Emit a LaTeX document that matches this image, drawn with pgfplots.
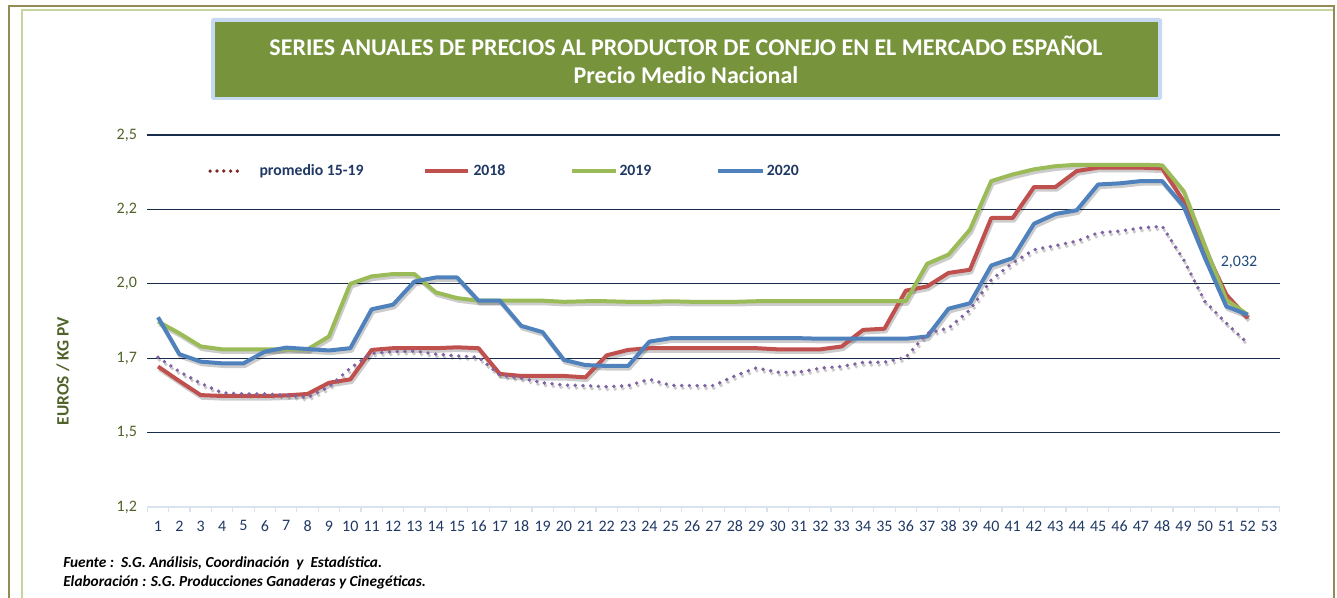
\documentclass[border=0pt]{standalone}
\usepackage{fontspec}
\setmainfont{Carlito}
\usepackage{pgfplots}
\usepackage{pgfplotstable}
\pgfplotsset{compat=1.18}

\definecolor{frameol}{RGB}{148,139,84}
\definecolor{framegr}{RGB}{195,214,155}
\definecolor{titlebg}{RGB}{119,147,60}
\definecolor{titlebd}{RGB}{198,217,241}
\definecolor{ytickc}{RGB}{79,98,40}
\definecolor{xtickc}{RGB}{31,56,100}
\definecolor{gridc}{RGB}{23,45,75}
\definecolor{axisc}{RGB}{217,227,240}
\definecolor{c18}{RGB}{192,80,77}
\definecolor{c19}{RGB}{155,187,89}
\definecolor{c20}{RGB}{79,129,189}
\definecolor{cprom}{RGB}{128,100,162}
\definecolor{cpromleg}{RGB}{128,40,40}
\definecolor{legtext}{RGB}{31,56,100}
\definecolor{lbl}{RGB}{31,73,125}

\pgfplotstableread{
w prom a18 a19 a20
1 1.723 1.691 1.848 1.863
2 1.673 1.640 1.807 1.734
3 1.632 1.591 1.761 1.708
4 1.599 1.588 1.751 1.702
5 1.595 1.588 1.751 1.702
6 1.595 1.588 1.751 1.743
7 1.591 1.590 1.751 1.757
8 1.583 1.595 1.751 1.752
9 1.620 1.634 1.796 1.747
10 1.685 1.646 1.980 1.755
11 1.737 1.749 2.006 1.891
12 1.743 1.755 2.014 1.907
13 1.745 1.755 2.014 1.988
14 1.734 1.755 1.950 2.002
15 1.728 1.758 1.930 2.002
16 1.723 1.755 1.921 1.921
17 1.661 1.665 1.921 1.921
18 1.650 1.658 1.921 1.833
19 1.634 1.658 1.921 1.811
20 1.626 1.658 1.917 1.714
21 1.624 1.653 1.919 1.696
22 1.620 1.730 1.919 1.693
23 1.624 1.749 1.917 1.693
24 1.646 1.755 1.917 1.778
25 1.625 1.755 1.919 1.790
26 1.624 1.755 1.917 1.790
27 1.624 1.755 1.917 1.790
28 1.658 1.755 1.917 1.790
29 1.686 1.755 1.919 1.790
30 1.671 1.751 1.919 1.790
31 1.671 1.751 1.919 1.790
32 1.685 1.751 1.919 1.788
33 1.691 1.761 1.919 1.788
34 1.705 1.819 1.919 1.788
35 1.706 1.823 1.919 1.788
36 1.723 1.956 1.919 1.788
37 1.807 1.971 2.050 1.796
38 1.825 2.018 2.082 1.893
39 1.889 2.029 2.169 1.912
40 1.994 2.210 2.339 2.044
41 2.053 2.210 2.362 2.070
42 2.099 2.318 2.380 2.190
43 2.113 2.318 2.391 2.224
44 2.129 2.374 2.396 2.237
45 2.158 2.386 2.396 2.327
46 2.164 2.386 2.396 2.331
47 2.175 2.386 2.396 2.339
48 2.181 2.383 2.394 2.339
49 2.064 2.269 2.304 2.251
50 1.918 2.099 2.111 2.070
51 1.842 1.942 1.924 1.901
52 1.772 1.860 1.872 1.872
}\data

\begin{document}
\begin{tikzpicture}
\path[use as bounding box] (0,0) rectangle (1002.75pt,448.5pt);
% frame
\draw[frameol, line width=1.5pt] (6.75pt,-1pt) -- (6.75pt,444pt) -- (1000.5pt,444pt) -- (1000.5pt,-1pt);
\draw[framegr, line width=0.9pt] (16.5pt,-1pt) -- (16.5pt,441pt) -- (999.5pt,441pt);
% title
\fill[titlebd, rounded corners=2pt] (158.25pt,373.5pt) rectangle (871.5pt,435pt);
\fill[titlebg] (161.25pt,375.75pt) rectangle (868.5pt,432pt);
\node[white, font=\bfseries\fontsize{18}{21}\selectfont] at (514.5pt,414.5pt) {SERIES ANUALES DE PRECIOS AL PRODUCTOR DE CONEJO EN EL MERCADO ESPAÑOL};
\node[white, font=\bfseries\fontsize{18}{21}\selectfont] at (514.5pt,392pt) {Precio Medio Nacional};
% y label
\node[ytickc, rotate=90, font=\bfseries\fontsize{13}{15}\selectfont] at (47.25pt,170pt) {EUROS / KG PV};
% footnotes
\node[anchor=west, inner sep=0pt, font=\bfseries\itshape\fontsize{11.5}{13}\selectfont] at (47.25pt,26.25pt) {Fuente :\ \ S.G. Análisis, Coordinación\ \ y\ \ Estadística.};
\node[anchor=west, inner sep=0pt, font=\bfseries\itshape\fontsize{11.5}{13}\selectfont] at (47.25pt,12pt) {Elaboración : S.G. Producciones Ganaderas y Cinegéticas.};

\begin{axis}[
  at={(110.5pt,68.25pt)}, anchor=south west, scale only axis,
  width=849.3pt, height=279pt,
  xmin=0.5, xmax=53.5, ymin=1.2, ymax=2.5,
  axis lines*=left,
  y axis line style={draw=none},
  x axis line style={axisc, line width=1.2pt, -},
  xtick={1,...,53},
  minor xtick={0.5,1.5,...,53.5},
  major x tick style={draw=none},
  minor x tick style={axisc, line width=0.9pt},
  minor tick length=3.75pt,
  tick align=outside,
  ytick={1.46,1.72,1.98,2.24,2.5},
  yticklabels={{1,5},{1,7},{2,0},{2,2},{2,5}},
  extra y ticks={1.2}, extra y tick labels={1{,}2},
  extra y tick style={grid=none},
  ymajorgrids, grid style={gridc, line width=0.8pt},
  major y tick style={draw=none},
  yticklabel style={ytickc, font=\fontsize{12}{14}\selectfont},
  xticklabel style={xtickc, font=\fontsize{12}{14}\selectfont, yshift=-2.5pt},
  /pgf/number format/assume math mode=true,
  legend columns=4,
  legend style={at={(0.0536,0.903)}, anchor=west, draw=none, fill=none,
    inner sep=0pt, column sep=0pt,
    nodes={inner sep=0pt, text=legtext, font=\bfseries\fontsize{11.8}{13}\selectfont}},
  shadowst/.style={black, opacity=0.2, line width=3pt, line join=round, xshift=1pt, yshift=-2pt, forget plot},
]
\addlegendimage{legend image code/.code={\path[draw=none,fill=none] (0pt,-4pt) rectangle (38pt,4pt); \draw[cpromleg, line width=2.8pt, line cap=round, dash pattern=on 0pt off 5.1pt] (1pt,0pt) -- (25.5pt,0pt);}}
\addlegendentry{\makebox[122.5pt][l]{promedio 15-19}}
\addlegendimage{legend image code/.code={\path[draw=none,fill=none] (0pt,-4pt) rectangle (36.5pt,4pt); \draw[c18, line width=3pt] (0pt,0pt) -- (32.25pt,0pt);}}
\addlegendentry{\makebox[72pt][l]{2018}}
\addlegendimage{legend image code/.code={\path[draw=none,fill=none] (0pt,-4pt) rectangle (36pt,4pt); \draw[c19, line width=3pt] (0pt,0pt) -- (33pt,0pt);}}
\addlegendentry{\makebox[72.5pt][l]{2019}}
\addlegendimage{legend image code/.code={\path[draw=none,fill=none] (0pt,-4pt) rectangle (36.5pt,4pt); \draw[c20, line width=3pt] (0pt,0pt) -- (33.75pt,0pt);}}
\addlegendentry{2020}

% shadows
\addplot[shadowst] table[x=w,y=a18]{\data};
\addplot[shadowst] table[x=w,y=a19]{\data};
\addplot[shadowst] table[x=w,y=a20]{\data};
\addplot[shadowst, line width=2.9pt, line cap=round, dash pattern=on 0pt off 5.8pt] table[x=w,y=prom]{\data};
% series
\addplot[c18, line width=3pt, line join=round, forget plot] table[x=w,y=a18]{\data};
\addplot[c19, line width=3pt, line join=round, forget plot] table[x=w,y=a19]{\data};
\addplot[c20, line width=3pt, line join=round, forget plot] table[x=w,y=a20]{\data};
\addplot[cprom, line width=2.9pt, line cap=round, dash pattern=on 0pt off 5.8pt, forget plot] table[x=w,y=prom]{\data};
\end{axis}
\node[lbl, font=\fontsize{12}{14}\selectfont] at (929.25pt,252pt) {2,032};
\end{tikzpicture}
\end{document}
